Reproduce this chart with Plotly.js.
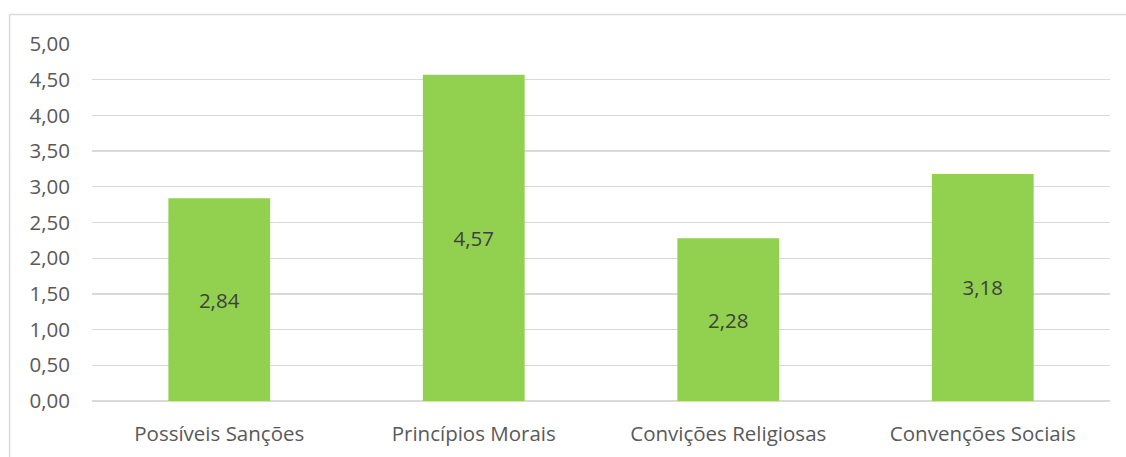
<!DOCTYPE html>
<html>
<head>
<meta charset="utf-8">
<script src="https://cdn.plot.ly/plotly-3.0.1.min.js"></script>
<style>
  html, body { margin: 0; padding: 0; background: #ffffff; }
  #chart { width: 1126px; height: 457px; }
</style>
</head>
<body>
<div id="chart"></div>
<script>
// Mean scores per motivation category
const categories = ['Possíveis Sanções', 'Princípios Morais', 'Convições Religiosas', 'Convenções Sociais'];
const scores = [2.84, 4.57, 2.28, 3.18];
const yTicks = [0, 0.5, 1, 1.5, 2, 2.5, 3, 3.5, 4, 4.5, 5];

const fontFamily = '"Open Sans", "Noto Sans", sans-serif';
const fontSize = 20.5;

const trace = {
  type: 'bar',
  x: categories,
  y: scores,
  marker: { color: '#92D050', line: { width: 0 } },
  texttemplate: '%{y:.2f}',
  textposition: 'inside',
  insidetextanchor: 'middle',
  textangle: 0,
  textfont: { family: fontFamily, size: fontSize, color: '#404040' },
  hoverinfo: 'skip'
};

const layout = {
  width: 1126,
  height: 457,
  margin: { l: 92, r: 16, t: 44, b: 56 },
  paper_bgcolor: '#ffffff',
  plot_bgcolor: '#ffffff',
  separators: ',.',
  bargap: 0.6,
  showlegend: false,
  font: { family: fontFamily, size: fontSize, color: '#595959' },
  xaxis: {
    type: 'category',
    showgrid: false,
    showline: false,
    zeroline: false,
    ticks: '',
    ticklabelstandoff: 18,
    tickfont: { family: fontFamily, size: fontSize, color: '#595959' }
  },
  yaxis: {
    range: [0, 5],
    tickvals: yTicks,
    tickformat: '.2f',
    showgrid: true,
    gridcolor: '#D9D9D9',
    gridwidth: 1.3,
    zeroline: true,
    zerolinecolor: '#D9D9D9',
    zerolinewidth: 1.3,
    showline: false,
    ticks: '',
    ticklabelstandoff: 21,
    tickfont: { family: fontFamily, size: fontSize, color: '#595959' }
  },
  shapes: [
    // chart frame: top and left edges
    { type: 'line', xref: 'paper', yref: 'paper', x0: -0.081, x1: 1.05, y0: 1.0826, y1: 1.0826,
      line: { color: '#D9D9D9', width: 1.5 } },
    { type: 'line', xref: 'paper', yref: 'paper', x0: -0.081, x1: -0.081, y0: 1.0826, y1: -0.3,
      line: { color: '#D9D9D9', width: 1.5 } }
  ]
};

Plotly.newPlot('chart', [trace], layout, { displayModeBar: false, staticPlot: true });
</script>
</body>
</html>
